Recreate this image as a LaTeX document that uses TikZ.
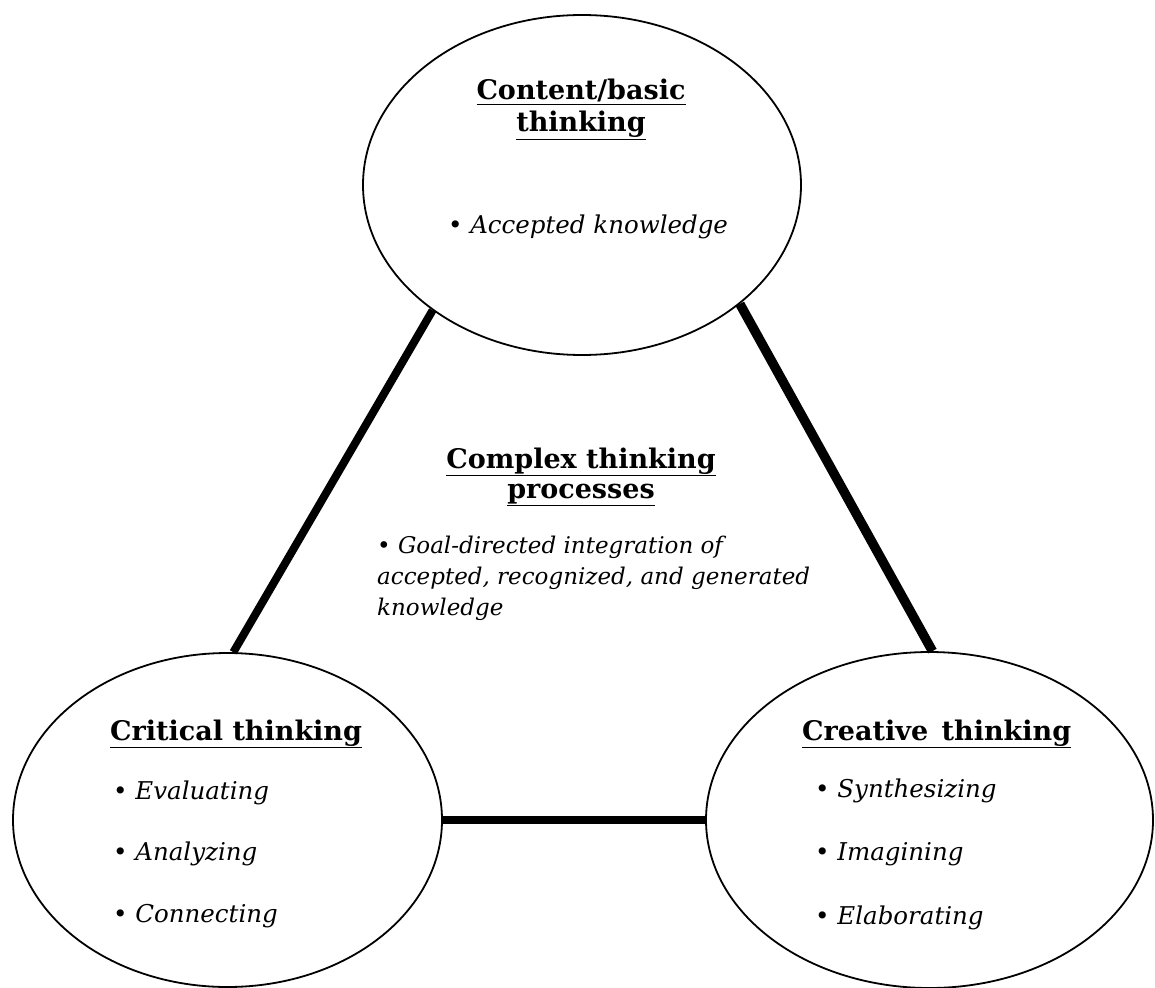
\documentclass[tikz,border=0pt]{standalone}
\usepackage{fontspec}
\setmainfont{DejaVu Serif}
\usetikzlibrary{shapes.geometric}
\begin{document}
\begin{tikzpicture}[x=1pt,y=-1pt,
  oval/.style={ellipse, draw, line width=1.8pt, inner sep=0pt},
  head/.style={font=\bfseries\fontsize{27}{31}\selectfont, inner sep=0pt},
  item/.style={font=\itshape\fontsize{24.5}{28}\selectfont, inner sep=0pt},
  body/.style={font=\itshape\fontsize{23}{28}\selectfont, inner sep=0pt},
  bar/.style={line width=8pt}]
\useasboundingbox (0,0) rectangle (1155,987);
% ellipses
\node[oval, minimum width=438pt, minimum height=340pt] (top) at (582,185) {};
\node[oval, minimum width=429pt, minimum height=334pt] (crit) at (227.5,820) {};
\node[oval, minimum width=447pt, minimum height=336pt] (crea) at (929.5,820) {};
% connectors
\draw[bar] (top.220.4) -- (crit.88);
\draw[bar, line width=9.5pt] (top.323.5) -- (crea.89);
\draw[bar] (crit.east) -- (crea.west);
% top ellipse text
\node[head, anchor=base] (t1) at (581,100) {\underline{Content/basic}};
\node[head, anchor=base] (t2) at (581,132) {\underline{thinking}};
\node[item, anchor=base] (t3) at (588,233) {• Accepted knowledge};
% centre text
\node[head, anchor=base] (c1) at (581,468) {\underline{Complex thinking}};
\node[head, anchor=base] (c2) at (581,498) {\underline{processes}};
\node[body, anchor=base west] (c3) at (377,553) {• Goal-directed integration of};
\node[body, anchor=base west] (c4) at (377,584) {accepted, recognized, and generated};
\node[body, anchor=base west] (c5) at (377,615) {knowledge};
% critical thinking
\node[head, anchor=base west] (k0) at (110,740) {\underline{Critical thinking}};
\node[item, anchor=base west] (k1) at (113,799) {• Evaluating};
\node[item, anchor=base west] (k2) at (113,860) {• Analyzing};
\node[item, anchor=base west] (k3) at (113,922) {• Connecting};
% creative thinking
\node[head, anchor=base west] (r0) at (802,740) {\underline{Creative\hspace{0.5em}thinking}};
\node[item, anchor=base west] (r1) at (815,797) {• Synthesizing};
\node[item, anchor=base west] (r2) at (815,860) {• Imagining};
\node[item, anchor=base west] (r3) at (815,924) {• Elaborating};
\end{tikzpicture}
\end{document}
